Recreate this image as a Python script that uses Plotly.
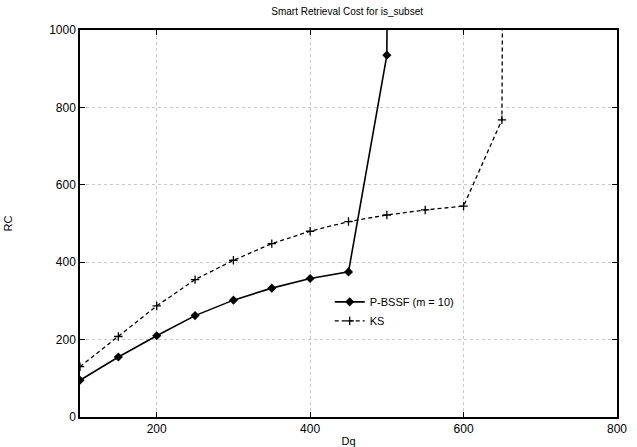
import plotly.graph_objects as go

dq = [100, 150, 200, 250, 300, 350, 400, 450, 500, 550, 600, 650, 700]
pbssf = [95, 155, 210, 262, 302, 333, 358, 375, 935, 20000]
ks = [130, 208, 287, 355, 405, 448, 480, 505, 522, 535, 545, 768, 20000]
x_ticks = [200, 400, 600, 800]
y_ticks = [0, 200, 400, 600, 800, 1000]

font = "Liberation Sans, Arial, sans-serif"

fig = go.Figure()
fig.add_trace(go.Scatter(
    x=dq[:len(pbssf)], y=pbssf, name="P-BSSF (m = 10)", mode="lines+markers",
    line=dict(color="black", width=1.6),
    marker=dict(symbol="diamond", size=7, color="black"),
))
fig.add_trace(go.Scatter(
    x=dq[:len(ks)], y=ks, name="KS", mode="lines+markers",
    line=dict(color="black", width=1.3, dash="4px,3px"),
    marker=dict(symbol="cross-thin", size=6, color="black", line=dict(width=1.3, color="black")),
))

axis_common = dict(
    showline=True, linecolor="black", linewidth=1.5, mirror="ticks",
    ticks="inside", ticklen=5, tickcolor="black", tickwidth=1,
    showgrid=True, gridcolor="#c8c8c8", griddash="dot", gridwidth=1,
    zeroline=False, tickfont=dict(family=font, size=12, color="black"),
    automargin=False,
)

fig.update_layout(
    width=637, height=447,
    margin=dict(l=80, r=20, t=30, b=30),
    paper_bgcolor="white", plot_bgcolor="white",
    title=dict(text="Smart Retrieval Cost for is_subset", x=0.545, xanchor="center",
               y=0.975, yanchor="middle", font=dict(family=font, size=10, color="black")),
    xaxis=dict(range=[100, 800], tickvals=x_ticks,
               title=dict(text="Dq", standoff=2, font=dict(family=font, size=11, color="black")),
               **axis_common),
    yaxis=dict(range=[0, 1000], tickvals=y_ticks,
               title=dict(text="RC", standoff=34, font=dict(family=font, size=11, color="black")),
               **axis_common),
    showlegend=True,
    legend=dict(x=0.465, y=0.335, xanchor="left", yanchor="top",
                bgcolor="rgba(255,255,255,0)", font=dict(family=font, size=11, color="black"),
                tracegroupgap=0, itemwidth=30),
)

fig.write_html("out.html")
